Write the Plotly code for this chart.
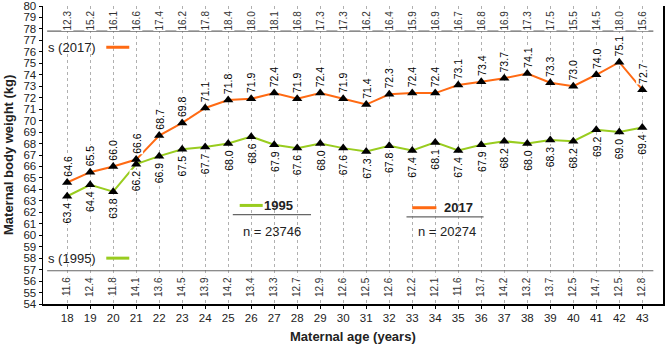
import plotly.graph_objects as go

ages = list(range(18, 44))
w2017 = [64.6, 65.5, 66.0, 66.6, 68.7, 69.8, 71.1, 71.8, 71.9, 72.4, 71.9, 72.4, 71.9,
         71.4, 72.3, 72.4, 72.4, 73.1, 73.4, 73.7, 74.1, 73.3, 73.0, 74.0, 75.1, 72.7]
w1995 = [63.4, 64.4, 63.8, 66.2, 66.9, 67.5, 67.7, 68.0, 68.6, 67.9, 67.6, 68.0, 67.6,
         67.3, 67.8, 67.4, 68.1, 67.4, 67.9, 68.2, 68.0, 68.3, 68.2, 69.2, 69.0, 69.4]
s2017 = [12.3, 15.2, 16.1, 16.6, 17.4, 16.2, 17.8, 18.4, 18.0, 18.1, 16.8, 17.3, 17.3,
         16.2, 16.4, 15.9, 16.9, 16.7, 16.8, 16.9, 17.3, 17.5, 15.5, 14.5, 18.0, 15.6]
s1995 = [11.6, 12.4, 11.8, 14.1, 13.6, 14.5, 13.9, 14.2, 13.4, 13.3, 12.7, 12.9, 12.6,
         12.5, 12.6, 12.2, 12.1, 11.6, 13.7, 14.2, 13.2, 13.7, 12.5, 14.7, 12.5, 12.8]
n1995 = 23746
n2017 = 20274

ORANGE = "#ff6a13"
GREEN = "#99cc1f"
FONT = "Liberation Sans, Arial, sans-serif"

fig = go.Figure()
fig.add_trace(go.Scatter(x=ages, y=w1995, mode="lines+markers", name="1995",
                         line=dict(color=GREEN, width=2),
                         marker=dict(symbol="triangle-up", size=9, color="black")))
fig.add_trace(go.Scatter(x=ages, y=w2017, mode="lines+markers", name="2017",
                         line=dict(color=ORANGE, width=2),
                         marker=dict(symbol="triangle-up", size=9, color="black")))

ann = []
for a, v in zip(ages, w2017):
    ann.append(dict(x=a, y=v, text=f"{v:.1f}", showarrow=False, textangle=-90,
                    yshift=16, bgcolor="white", borderpad=0,
                    font=dict(size=10.5, color="black", family=FONT)))
for a, v in zip(ages, w1995):
    ann.append(dict(x=a, y=v, text=f"{v:.1f}", showarrow=False, textangle=-90,
                    yshift=-17, bgcolor="white", borderpad=0,
                    font=dict(size=10.5, color="black", family=FONT)))
for a, v in zip(ages, s2017):
    ann.append(dict(x=a, y=78.75, text=f"{v:.1f}", showarrow=False, textangle=-90,
                    bgcolor="white", borderpad=0,
                    font=dict(size=10, color="#333", family=FONT)))
for a, v in zip(ages, s1995):
    ann.append(dict(x=a, y=55.5, text=f"{v:.1f}", showarrow=False, textangle=-90,
                    bgcolor="white", borderpad=0,
                    font=dict(size=10, color="#333", family=FONT)))

# legend-like texts
ann += [
    dict(x=17.1, y=76.4, text="s (2017)", showarrow=False, xanchor="left",
         font=dict(size=13, color="#222", family=FONT)),
    dict(x=17.1, y=58.0, text="s (1995)", showarrow=False, xanchor="left",
         font=dict(size=13, color="#222", family=FONT)),
    dict(x=27.2, y=62.6, text="<b>1995</b>", showarrow=False, xanchor="center",
         font=dict(size=13, color="#222", family=FONT)),
    dict(x=26.9, y=60.3, text=f"n = {n1995}", showarrow=False, xanchor="center",
         font=dict(size=13, color="#222", family=FONT)),
    dict(x=35.0, y=62.4, text="<b>2017</b>", showarrow=False, xanchor="center",
         font=dict(size=13, color="#222", family=FONT)),
    dict(x=34.5, y=60.3, text=f"n = {n2017}", showarrow=False, xanchor="center",
         font=dict(size=13, color="#222", family=FONT)),
    dict(xref="paper", yref="paper", x=-35 / 620, y=0.5, xanchor="center", yanchor="middle",
         text="<b>Maternal body weight (kg)</b>",
         showarrow=False, textangle=-90, font=dict(size=13, color="#222", family=FONT)),
    dict(xref="paper", yref="paper", x=0.5, y=-33 / 298, xanchor="center", yanchor="middle",
         text="<b>Maternal age (years)</b>", showarrow=False,
         font=dict(size=13, color="#222", family=FONT)),
]

shapes = [
    dict(type="line", x0=17.13, x1=43.48, y0=77.8, y1=77.8, line=dict(color="#666", width=1.2)),
    dict(type="line", x0=17.13, x1=43.48, y0=56.9, y1=56.9, line=dict(color="#666", width=1.2)),
    dict(type="line", x0=19.7, x1=20.7, y0=76.4, y1=76.4, line=dict(color=ORANGE, width=3)),
    dict(type="line", x0=19.7, x1=20.7, y0=58.0, y1=58.0, line=dict(color=GREEN, width=3)),
    dict(type="line", x0=25.5, x1=26.5, y0=62.6, y1=62.6, line=dict(color=GREEN, width=3)),
    dict(type="line", x0=25.2, x1=28.6, y0=61.8, y1=61.8, line=dict(color="#666", width=1.2)),
    dict(type="line", x0=33.0, x1=34.05, y0=62.4, y1=62.4, line=dict(color=ORANGE, width=3)),
    dict(type="line", x0=32.75, x1=36.1, y0=61.6, y1=61.6, line=dict(color="#666", width=1.2)),
]

fig.update_layout(
    width=665, height=348, margin=dict(l=43, r=2, t=6, b=44, autoexpand=False),
    paper_bgcolor="white", plot_bgcolor="white", showlegend=False,
    annotations=ann, shapes=shapes,
    font=dict(family=FONT, size=11, color="#222"),
    xaxis=dict(range=[16.95, 43.9], tickmode="array", tickvals=ages, automargin=False,
               ticktext=[str(a) for a in ages], showline=True, linecolor="black", linewidth=1.5,
               ticks="outside", ticklen=3, tickcolor="black",
               showgrid=True, gridcolor="#b0b0b0", griddash="dot", gridwidth=1,
               zeroline=False, tickfont=dict(size=11.5)),
    yaxis=dict(range=[54, 80], tickmode="linear", tick0=54, dtick=1, automargin=False,
               ticklabeloverflow="allow",
               showline=True, linecolor="black", linewidth=1.5, mirror=True,
               ticks="outside", ticklen=3, tickcolor="black",
               showgrid=False, zeroline=False, tickfont=dict(size=11.5)),
)

fig.write_html("out.html", config={"displayModeBar": False, "staticPlot": True},
               post_script="document.body.style.margin='0';document.body.style.overflow='hidden';")
